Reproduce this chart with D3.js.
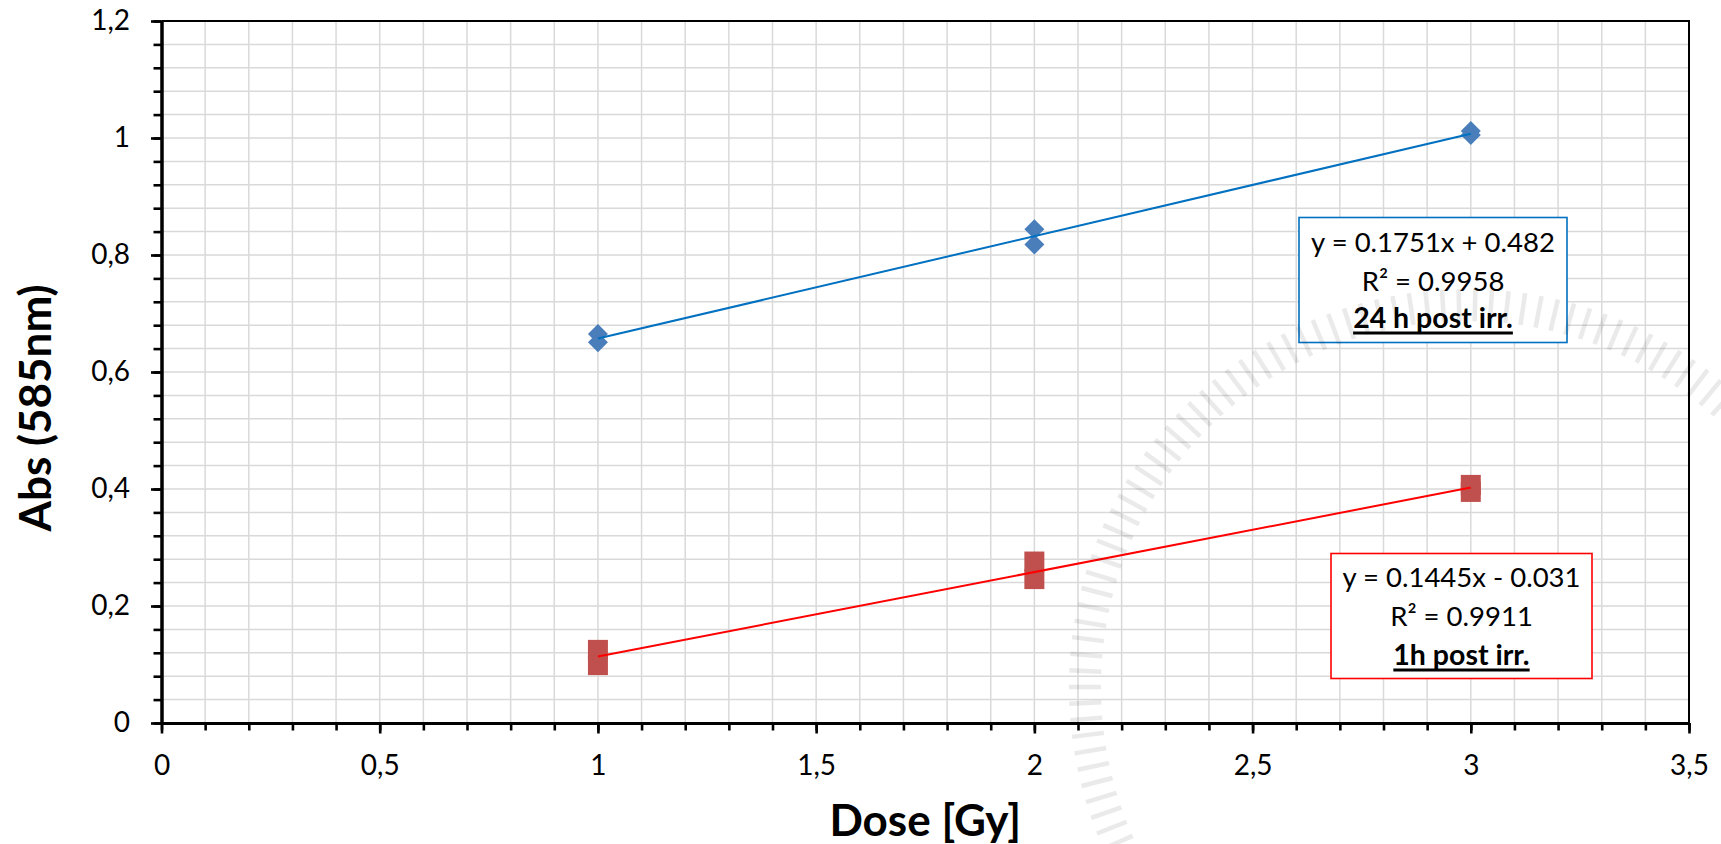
<!DOCTYPE html>
<html>
<head>
<meta charset="utf-8">
<script src="https://cdn.jsdelivr.net/npm/d3@7"></script>
<style>
  html, body { margin: 0; padding: 0; background: #ffffff; }
  svg { display: block; }
  text { font-family: Lato, "Open Sans", "Noto Sans", sans-serif; fill: #000; }
</style>
</head>
<body>
<svg id="chart" width="1721" height="844"></svg>
<script>
// Absorbance at 585 nm versus delivered dose, two read-out times
const doses   = [1, 1, 2, 2, 3, 3];
const abs24h  = [0.665, 0.651, 0.844, 0.818, 1.012, 1.005];
const abs1h   = [0.125, 0.099, 0.276, 0.246, 0.407, 0.395];

// Linear fits shown in the annotation boxes
const seriesNames = ["24 h post irr.", "1h post irr."];
const slopes      = [0.1751, 0.1445];
const intercepts  = [0.482, -0.031];
const rSquared    = [0.9958, 0.9911];

// Axis tick labels (decimal comma)
const xTickLabels = ["0", "0,5", "1", "1,5", "2", "2,5", "3", "3,5"];
const yTickLabels = ["0", "0,2", "0,4", "0,6", "0,8", "1", "1,2"];

const W = 1721, H = 844;
const plot = { left: 161.5, right: 1689, top: 21, bottom: 723 };

const toNum = s => +s.replace(",", ".");
const xTicks = xTickLabels.map(toNum);
const yTicks = yTickLabels.map(toNum);

const x = d3.scaleLinear().domain([xTicks[0], xTicks[xTicks.length - 1]]).range([plot.left, plot.right]);
const y = d3.scaleLinear().domain([yTicks[0], yTicks[yTicks.length - 1]]).range([plot.bottom, plot.top]);

const xMinor = d3.range(0, 35 + 1).map(i => i / 10);
const yMinor = d3.range(0, 30 + 1).map(i => i * 0.04);

const svg = d3.select("#chart");
svg.append("rect").attr("width", W).attr("height", H).attr("fill", "#fff");

// Grid
const grid = svg.append("g").attr("stroke", "#d9d9d9").attr("stroke-width", 1.5);
grid.selectAll("line.v").data(xMinor).join("line")
  .attr("x1", d => x(d)).attr("x2", d => x(d))
  .attr("y1", plot.top).attr("y2", plot.bottom);
grid.selectAll("line.h").data(yMinor).join("line")
  .attr("x1", plot.left).attr("x2", plot.right)
  .attr("y1", d => y(d)).attr("y2", d => y(d));

// Thin frame on top and right
svg.append("path")
  .attr("d", `M${plot.left},${plot.top}H${plot.right}V${plot.bottom}`)
  .attr("fill", "none").attr("stroke", "#000").attr("stroke-width", 2);

// Axes: minor ticks first, then major ticks with labels
function styleAxis(g, w) {
  g.selectAll(".domain").attr("stroke", "#000").attr("stroke-width", w);
  g.selectAll(".tick line").attr("stroke", "#000").attr("stroke-width", 2.6);
}
const yMinorAxis = svg.append("g").attr("transform", `translate(${plot.left},0)`)
  .call(d3.axisLeft(y).tickValues(yMinor).tickSize(8).tickSizeOuter(0).tickFormat(""));
styleAxis(yMinorAxis, 3);
const xMinorAxis = svg.append("g").attr("transform", `translate(0,${plot.bottom})`)
  .call(d3.axisBottom(x).tickValues(xMinor).tickSize(7.5).tickSizeOuter(0).tickFormat(""));
styleAxis(xMinorAxis, 3);

const yAxis = svg.append("g").attr("transform", `translate(${plot.left},0)`)
  .call(d3.axisLeft(y).tickValues(yTicks).tickSize(10.5).tickSizeOuter(0).tickPadding(21)
    .tickFormat((d, i) => yTickLabels[i]));
styleAxis(yAxis, 3);
const xAxis = svg.append("g").attr("transform", `translate(0,${plot.bottom})`)
  .call(d3.axisBottom(x).tickValues(xTicks).tickSize(10.5).tickSizeOuter(0).tickPadding(21.5)
    .tickFormat((d, i) => xTickLabels[i]));
styleAxis(xAxis, 3);
svg.selectAll(".tick text")
  .attr("font-family", "Lato, 'Open Sans', sans-serif")
  .attr("font-size", 28).attr("fill", "#000");

// Axis titles
svg.append("text")
  .attr("x", (plot.left + plot.right) / 2).attr("y", 836)
  .attr("text-anchor", "middle").attr("font-size", 44).attr("font-weight", 700)
  .text("Dose [Gy]");
svg.append("text")
  .attr("transform", "translate(51,408) rotate(-90)")
  .attr("text-anchor", "middle").attr("font-size", 44).attr("font-weight", 700)
  .text("Abs (585nm)");

// Data markers
const pts24 = doses.map((d, i) => ({ x: d, y: abs24h[i] }));
const pts1  = doses.map((d, i) => ({ x: d, y: abs1h[i] }));

svg.append("g").selectAll("path").data(pts24).join("path")
  .attr("transform", d => `translate(${x(d.x)},${y(d.y)}) rotate(45)`)
  .attr("d", d3.symbol(d3.symbolSquare, 200)())
  .attr("fill", "#4a7ebb");
svg.append("g").selectAll("path").data(pts1).join("path")
  .attr("transform", d => `translate(${x(d.x)},${y(d.y)})`)
  .attr("d", d3.symbol(d3.symbolSquare, 400)())
  .attr("fill", "#c0504d");

// Trend lines over the measured dose range
const lineColors = ["#0070c0", "#ff0000"];
const [dMin, dMax] = d3.extent(doses);
slopes.forEach((m, k) => {
  const seg = [dMin, dMax].map(d => ({ x: d, y: m * d + intercepts[k] }));
  svg.append("path")
    .attr("d", d3.line().x(d => x(d.x)).y(d => y(d.y))(seg))
    .attr("fill", "none").attr("stroke", lineColors[k]).attr("stroke-width", 2);
});

// Equation boxes
const boxes = [
  { x0: 1299, y0: 217.5, x1: 1567, y1: 342.5, base: [251.5, 290.5, 328] },
  { x0: 1331, y0: 553.5, x1: 1592, y1: 678.5, base: [587, 626, 665] }
];
const fmt = v => (v < 0 ? " - " : " + ") + Math.abs(v).toFixed(3);
boxes.forEach((b, k) => {
  const g = svg.append("g");
  g.append("rect").attr("x", b.x0).attr("y", b.y0)
    .attr("width", b.x1 - b.x0).attr("height", b.y1 - b.y0)
    .attr("fill", "#fff").attr("stroke", lineColors[k]).attr("stroke-width", 1.6);
  const cx = (b.x0 + b.x1) / 2;
  const lines = [
    `y = ${slopes[k].toFixed(4)}x${fmt(intercepts[k])}`,
    `R² = ${rSquared[k].toFixed(4)}`
  ];
  lines.forEach((t, i) => {
    g.append("text").attr("x", cx).attr("y", b.base[i])
      .attr("text-anchor", "middle").attr("font-size", 27.5).text(t);
  });
  const lbl = g.append("text").attr("x", cx).attr("y", b.base[2])
    .attr("text-anchor", "middle").attr("font-size", 28.5).attr("font-weight", 700)
    .text(seriesNames[k]);
  const len = lbl.node().getComputedTextLength();
  g.append("line")
    .attr("x1", cx - len / 2).attr("x2", cx + len / 2)
    .attr("y1", b.base[2] + 5).attr("y2", b.base[2] + 5)
    .attr("stroke", "#000").attr("stroke-width", 2.8);
});

// Faint seal in the background: ring of radial strokes
const seal = { cx: 1467, cy: 687, r0: 366, r1: 398, n: 150 };
const ring = svg.append("g").attr("opacity", 0.08).attr("stroke", "#000")
  .attr("stroke-width", 4.5).style("pointer-events", "none");
ring.selectAll("line").data(d3.range(seal.n)).join("line")
  .attr("x1", i => seal.cx + seal.r0 * Math.cos(2 * Math.PI * i / seal.n))
  .attr("y1", i => seal.cy + seal.r0 * Math.sin(2 * Math.PI * i / seal.n))
  .attr("x2", i => seal.cx + seal.r1 * Math.cos(2 * Math.PI * i / seal.n))
  .attr("y2", i => seal.cy + seal.r1 * Math.sin(2 * Math.PI * i / seal.n));
</script>
</body>
</html>
